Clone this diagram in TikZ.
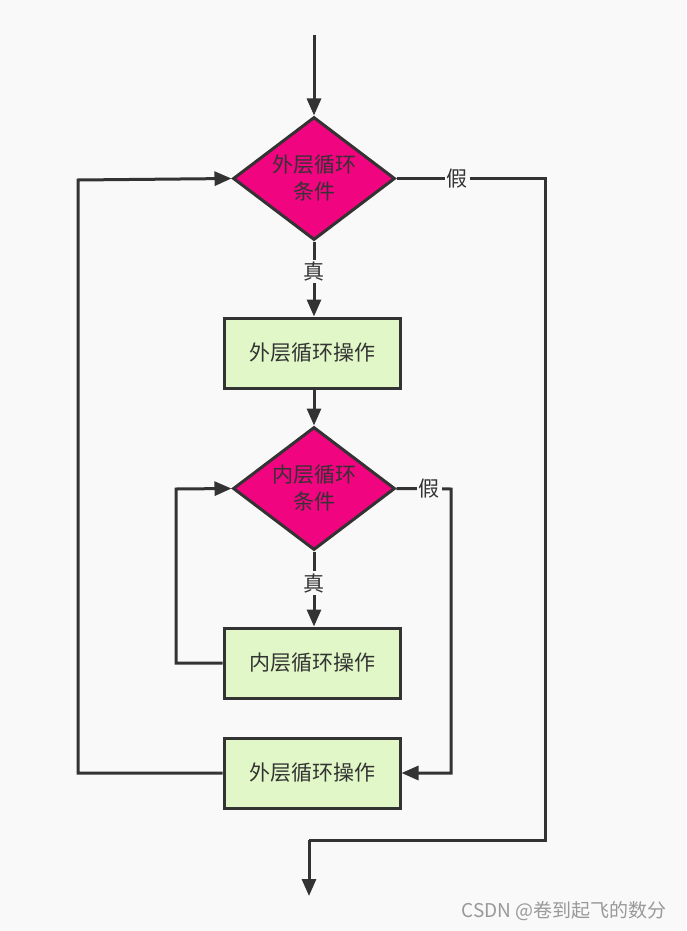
\documentclass[tikz,border=0pt]{standalone}
\usepackage{fontspec}
\newfontfamily\cjk{Noto Sans CJK SC}
\usetikzlibrary{shapes.geometric,arrows.meta}
\definecolor{bg}{HTML}{F9F9F9}
\definecolor{ln}{HTML}{333333}
\definecolor{mag}{HTML}{F0047F}
\definecolor{grn}{HTML}{E1F7C7}
\tikzset{
  x=1pt,y=-1pt,
  every node/.style={font=\cjk\fontsize{21}{26}\selectfont, text=ln},
  cond/.style={diamond, draw=ln, line width=3pt, fill=mag, minimum width=162pt, minimum height=123pt, inner sep=0pt, align=center, aspect=1.32, font=\cjk\fontsize{21}{27}\selectfont},
  opbox/.style={rectangle, draw=ln, line width=3pt, fill=grn, minimum width=176pt, minimum height=70pt, inner sep=0pt},
  conn/.style={draw=ln, line width=3pt},
  arr/.style={conn, -{Triangle[length=17pt,width=14pt]}},
  lbl/.style={fill=bg, inner sep=2pt, font=\cjk\fontsize{21}{26}\selectfont}
}
\begin{document}
\begin{tikzpicture}
\fill[bg] (0,0) rectangle (686,931);
\useasboundingbox (0,0) rectangle (686,931);
\coordinate (start) at (314,35);
\node[cond] (d1) at (314,178.5) {外层循环\\条件};
\node[opbox] (b1) at (312,353) {外层循环操作};
\node[cond] (d2) at (314,488.5) {内层循环\\条件};
\node[opbox] (b2) at (312,663) {内层循环操作};
\node[opbox] (b3) at (312,773) {外层循环操作};
\coordinate (r1) at (545,180);
\coordinate (r2) at (545,840);
\coordinate (r3) at (309,840);
\coordinate (endp) at (309,896);
\coordinate (l1) at (78,773);
\coordinate (l2) at (78,180);
\coordinate (il1) at (176,663);
\coordinate (il2) at (176,489);
\coordinate (ir1) at (451,489);
\coordinate (ir2) at (451,773);

\draw[arr] (start) -- (d1.north);
\draw[arr] (d1.south) -- node[lbl,pos=0.4]{真} (d1.south |- b1.north);
\draw[arr] (b1.south -| d2.north) -- (d2.north);
\draw[arr] (d2.south) -- node[lbl,pos=0.42]{真} (d2.south |- b2.north);
\draw[arr] (b2.west) -- (il1) -- (il2) -- (d2.west);
\draw[arr] (b3.west) -- (l1) -- (l2) -- (d1.west);
\draw[conn] (d1.east) -- node[lbl,pos=0.41]{假} (d1.east -| r1) -- (r1) -- (r2) -- (r3);
\draw[arr] (r3) -- (endp);
\draw[arr] (d2.east) -- node[lbl,pos=0.6]{假} (ir1) -- (ir2) -- (b3.east);
\node[text=gray!80, font=\cjk\fontsize{19}{22}\selectfont] (wm) at (564,911) {CSDN @卷到起飞的数分};
\end{tikzpicture}
\end{document}
